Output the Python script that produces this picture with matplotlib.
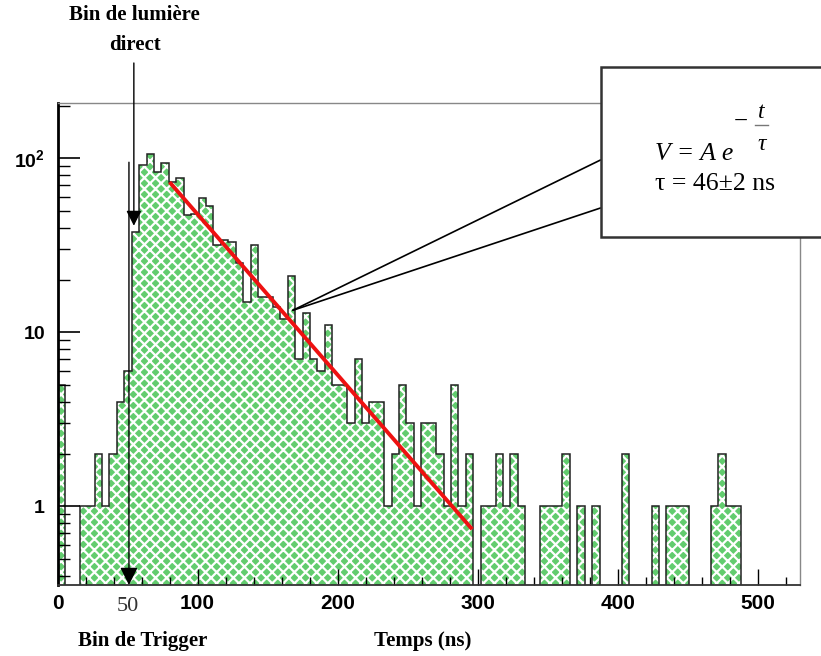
import numpy as np
import matplotlib.pyplot as plt
from matplotlib.patches import Rectangle
from matplotlib.lines import Line2D
from matplotlib.ticker import FixedLocator, MultipleLocator, LogLocator, NullFormatter

# histogramme : 100 bins de 0 a 530 ns
bin_min = 0
bin_max = 530
nbins = 100
counts = [5, 0, 0, 1, 1, 2, 1, 2, 4, 6,
          38, 92, 106, 83, 94, 73, 77, 47, 48, 59,
          53, 32, 34, 33, 25, 15, 32, 16, 16, 14,
          12, 21, 7, 13, 7, 6, 11, 5, 5, 3,
          7, 3, 4, 4, 1, 2, 5, 3, 1, 3,
          3, 2, 1, 5, 1, 2, 0, 1, 1, 2,
          1, 2, 1, 0, 0, 1, 1, 1, 2, 0,
          1, 0, 1, 0, 0, 0, 2, 0, 0, 0,
          1, 0, 1, 1, 1, 0, 0, 0, 1, 2,
          1, 1, 0, 0, 0, 0, 0, 0, 0, 0]

# droite de fit (extremites)
fit_t = [80, 296]
fit_v = [73, 0.74]

ytick_vals = [1, 10, 100]
ytick_labels = ['1', '10', r'$\mathbf{10^{2}}$']

plt.rcParams['hatch.color'] = 'white'
plt.rcParams['hatch.linewidth'] = 1.6
plt.rcParams['mathtext.fontset'] = 'custom'
plt.rcParams['mathtext.bf'] = 'Liberation Sans:bold'
plt.rcParams['mathtext.rm'] = 'Liberation Sans:bold'

edges = np.linspace(bin_min, bin_max, nbins + 1)
vals = np.array(counts, dtype=float)
floor = 1e-2
plot_vals = np.where(vals > 0, vals, floor)

W, H = 821, 656
fig = plt.figure(figsize=(W / 100, H / 100), dpi=100)
ax = fig.add_axes([57.5 / W, 1 - 585 / H, (800 - 57.5) / W, (585 - 103) / H])

ax.stairs(plot_vals, edges, baseline=floor, fill=True, facecolor='#62cc6e',
          edgecolor='white', hatch='xxx', lw=0)
ax.stairs(plot_vals, edges, baseline=floor, color='#222222', lw=1.1)
ax.plot(fit_t, fit_v, color='#ee1111', lw=2.8, solid_capstyle='butt')

ax.set_yscale('log')
ax.set_xlim(bin_min, bin_max)
ax.set_ylim(0.354, 208)

ax.xaxis.set_major_locator(MultipleLocator(100))
ax.xaxis.set_minor_locator(MultipleLocator(20))
ax.yaxis.set_major_locator(FixedLocator(ytick_vals))
ax.yaxis.set_minor_locator(LogLocator(base=10, subs=range(2, 10)))
ax.yaxis.set_minor_formatter(NullFormatter())
ax.set_yticklabels(ytick_labels)

ax.tick_params(axis='x', which='major', direction='in', length=11.5, width=1,
               top=False, labelsize=15, pad=6.5, labelfontfamily='Liberation Sans')
ax.tick_params(axis='x', which='minor', direction='in', length=5.8, width=1, top=False)
ax.tick_params(axis='y', which='major', direction='in', length=16, width=1.2,
               right=False, labelsize=14, pad=9, labelfontfamily='Liberation Sans')
ax.tick_params(axis='y', which='minor', direction='in', length=8.5, width=1, right=False)
for lab in ax.get_xticklabels() + ax.get_yticklabels():
    lab.set_fontweight('bold')

ax.spines['left'].set_linewidth(2)
ax.spines['left'].set_color('black')
ax.spines['bottom'].set_linewidth(1.3)
ax.spines['bottom'].set_color('#333333')
for s in ['top', 'right']:
    ax.spines[s].set_linewidth(1)
    ax.spines[s].set_color('#888888')

# fleche bin de trigger
ax.annotate('', xy=(51, 0), xycoords=('data', 'axes fraction'), xytext=(51, 95),
            textcoords='data', annotation_clip=False,
            arrowprops=dict(arrowstyle='-|>,head_length=0.4,head_width=0.2', color='black',
                            lw=1, mutation_scale=27, shrinkA=0, shrinkB=0))
# fleche bin de lumiere direct
ax.annotate('', xy=(54.5, 41), xycoords='data', xytext=(54.5, 1 - 63 / H),
            textcoords=('data', 'figure fraction'), annotation_clip=False,
            arrowprops=dict(arrowstyle='-|>,head_length=0.4,head_width=0.2', color='black',
                            lw=1, mutation_scale=23, shrinkA=0, shrinkB=0))

fig.text(134.7 / W, 1 - 15.5 / H, 'Bin de lumière', ha='center', va='center',
         family='Liberation Serif', weight='bold', fontsize=15)
fig.text(134.7 / W, 1 - 45.5 / H, 'direct', ha='center', va='center',
         family='Liberation Serif', weight='bold', fontsize=15)

tr = ax.get_xaxis_transform()
ax.text(50, -0.045, '50', transform=tr, ha='center', va='center',
        family='Liberation Serif', fontsize=16, color='#333333')
ax.text(60.7, -0.116, 'Bin de Trigger', transform=tr, ha='center', va='center',
        family='Liberation Serif', weight='bold', fontsize=15)
ax.text(261, -0.116, 'Temps (ns)', transform=tr, ha='center', va='center',
        family='Liberation Serif', weight='bold', fontsize=15)

# encadre du fit
box = Rectangle((600.5 / W, 1 - 237 / H), 0.3, 170 / H, transform=fig.transFigure,
                facecolor='white', edgecolor='#333333', lw=1.8, zorder=5, clip_on=False)
fig.add_artist(box)
for yb in [160, 208]:
    ax.annotate('', xy=(168, 13.4), xycoords='data', xytext=(600.5 / W, 1 - yb / H),
                textcoords='figure fraction', annotation_clip=False,
                arrowprops=dict(arrowstyle='-', color='black', lw=1.2, shrinkA=0, shrinkB=0))

serif = 'Liberation Serif'
fig.text(655 / W, 1 - 160 / H, 'V = A e', family=serif, style='italic', fontsize=18.5,
         va='baseline', zorder=6)
fig.text(741 / W, 1 - 122 / H, '−', family=serif, fontsize=18, ha='center', va='center', zorder=6)
fig.text(761.7 / W, 1 - 112 / H, 't', family=serif, style='italic', fontsize=17,
         ha='center', va='center', zorder=6)
fig.add_artist(Line2D([755 / W, 768 / W], [1 - 125 / H, 1 - 125 / H], color='#777777',
                      lw=1, transform=fig.transFigure, zorder=6))
fig.text(761.7 / W, 1 - 145 / H, 'τ', family=serif, style='italic', fontsize=17,
         ha='center', va='center', zorder=6)
fig.text(655 / W, 1 - 184 / H, 'τ = 46±2 ns', family=serif, fontsize=18.5,
         ha='left', va='center', zorder=6)

fig.savefig('out.png', dpi=100)
